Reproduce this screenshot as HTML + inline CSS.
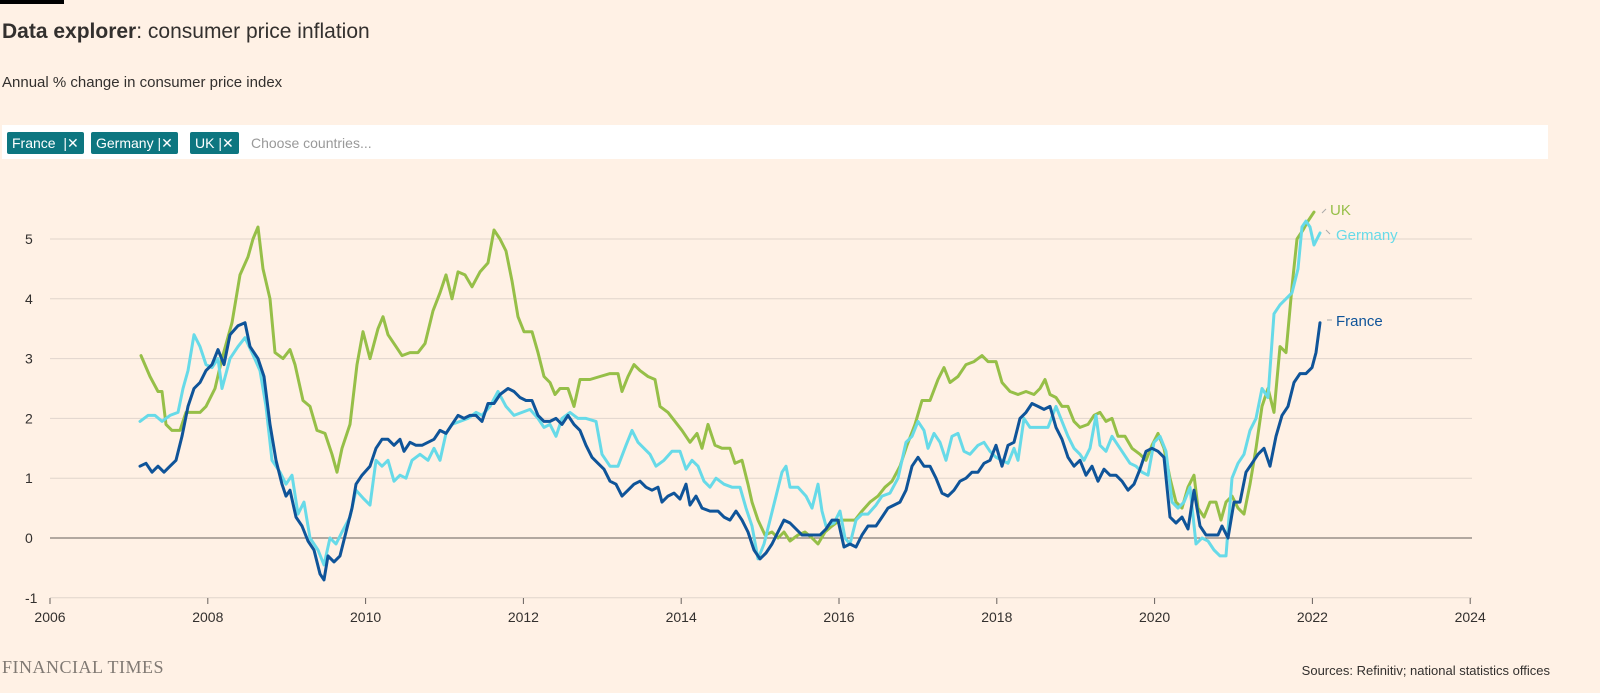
<!DOCTYPE html>
<html><head><meta charset="utf-8">
<style>
html,body{margin:0;padding:0;background:#fff1e5;width:1600px;height:693px;overflow:hidden;font-family:"Liberation Sans",sans-serif;color:#33302e}
.bar{position:absolute;left:0;top:0;width:64px;height:4px;background:#000}
h1{position:absolute;left:2px;top:20px;margin:0;font-size:21px;font-weight:normal}
h1 b{font-weight:bold}
.sub{position:absolute;left:2px;top:74px;font-size:15px}
.sel{position:absolute;left:2px;top:125px;width:1546px;height:34px;background:#fff}
.chip{position:absolute;top:7px;height:22px;background:#0d7680;color:#fff;font-size:14px;line-height:22px;padding:0 5px;border-radius:2px}
.ph{position:absolute;left:249px;top:7px;font-size:14px;line-height:22px;color:#999}
.ft{position:absolute;left:2px;top:657px;font-family:"Liberation Serif",serif;font-size:18px;color:#807973;letter-spacing:0.5px}
.src{position:absolute;right:50px;top:663px;font-size:13px}
</style></head><body>
<div class="bar"></div>
<h1><b>Data explorer</b>: consumer price inflation</h1>
<div class="sub">Annual % change in consumer price index</div>
<div class="sel">
<span class="chip" style="left:5px">France &nbsp;|✕</span>
<span class="chip" style="left:89px">Germany |✕</span>
<span class="chip" style="left:188px">UK |✕</span>
<span class="ph">Choose countries...</span>
</div>
<svg id="c" width="1600" height="693" style="position:absolute;left:0;top:0" font-family="Liberation Sans, sans-serif" font-size="14" fill="#33302e"></svg>
<div class="ft">FINANCIAL TIMES</div>
<div class="src">Sources: Refinitiv; national statistics offices</div>
<script>
const Y=v=>538-v*59.8;
let s='';
for(let v=-1;v<=5;v++){ if(v!==0) s+=`<line x1="50" x2="1472" y1="${Y(v)}" y2="${Y(v)}" stroke="#e0d5cc" stroke-width="1"/>`;
 s+=`<text x="25" y="${Y(v)+5}">${v}</text>`;}
s+=`<line x1="50" x2="1472" y1="538" y2="538" stroke="#66605c" stroke-width="1"/>`;
for(let yr=2006;yr<=2024;yr+=2){const x=50+(yr-2006)*78.9;s+=`<line x1="${x}" x2="${x}" y1="598" y2="604" stroke="#66605c"/><text x="${x}" y="622" text-anchor="middle">${yr}</text>`;}
const uk=[141,3.05,150,2.7,158,2.45,162,2.45,166,1.9,172,1.8,180,1.8,186,2.1,200,2.1,206,2.2,215,2.5,222,3.0,232,3.6,240,4.4,248,4.7,253,5.0,258,5.2,263,4.5,270,4.0,275,3.1,283,3.0,290,3.15,295,2.9,303,2.3,310,2.2,317,1.8,325,1.75,332,1.4,337,1.1,342,1.5,350,1.9,357,2.9,363,3.45,370,3.0,378,3.5,383,3.7,388,3.4,396,3.2,402,3.05,410,3.1,418,3.1,425,3.25,433,3.8,440,4.1,446,4.4,452,4.0,458,4.45,465,4.4,472,4.2,480,4.45,488,4.6,494,5.15,500,5.0,506,4.8,512,4.3,518,3.7,524,3.45,532,3.45,538,3.1,544,2.7,550,2.6,555,2.4,560,2.5,568,2.5,574,2.2,580,2.65,590,2.65,600,2.7,610,2.75,618,2.75,622,2.45,628,2.7,634,2.9,640,2.8,648,2.7,655,2.65,660,2.2,668,2.1,675,1.95,682,1.8,690,1.6,697,1.75,702,1.5,708,1.9,715,1.55,722,1.5,730,1.5,735,1.25,742,1.3,748,0.9,752,0.6,758,0.3,765,0.05,772,0.1,778,0.0,784,0.1,790,-0.05,798,0.05,805,0.1,812,0.0,818,-0.1,825,0.1,832,0.2,840,0.3,848,0.3,855,0.3,862,0.45,870,0.6,878,0.7,885,0.85,892,0.95,900,1.2,907,1.55,915,1.9,922,2.3,930,2.3,938,2.65,944,2.85,950,2.6,958,2.7,966,2.9,974,2.95,982,3.05,988,2.95,996,2.95,1002,2.6,1010,2.45,1018,2.4,1026,2.45,1034,2.4,1040,2.5,1045,2.65,1050,2.4,1056,2.35,1062,2.2,1068,2.2,1074,1.95,1080,1.85,1088,1.9,1094,2.05,1100,2.1,1106,1.95,1112,2.0,1118,1.7,1125,1.7,1132,1.5,1140,1.4,1146,1.3,1152,1.55,1158,1.75,1164,1.5,1170,1.0,1176,0.6,1182,0.5,1188,0.85,1194,1.05,1198,0.5,1204,0.35,1210,0.6,1216,0.6,1221,0.3,1226,0.6,1232,0.7,1238,0.5,1244,0.4,1250,0.9,1256,1.5,1262,2.2,1268,2.5,1274,2.1,1280,3.2,1286,3.1,1292,4.2,1297,5.0,1303,5.15,1308,5.3,1314,5.45];
const de=[140,1.95,148,2.05,155,2.05,162,1.95,170,2.05,178,2.1,183,2.5,188,2.8,194,3.4,200,3.2,206,2.9,212,2.85,218,3.0,222,2.5,230,3.0,238,3.2,245,3.35,252,3.1,260,2.8,266,2.2,272,1.3,280,1.1,286,0.9,292,1.05,298,0.4,304,0.6,310,0.0,318,-0.2,324,-0.45,330,0.0,336,-0.1,342,0.1,350,0.35,356,0.8,364,0.65,370,0.55,376,1.3,382,1.2,388,1.3,394,0.95,400,1.05,406,1.0,412,1.3,420,1.4,428,1.3,434,1.5,440,1.3,446,1.75,452,1.9,460,1.95,468,2.0,476,2.1,482,2.05,490,2.2,498,2.45,506,2.2,514,2.05,522,2.1,530,2.15,538,2.0,544,1.85,550,1.9,556,1.7,562,2.0,570,2.1,578,2.0,586,2.0,596,1.95,602,1.4,610,1.2,618,1.2,626,1.55,632,1.8,638,1.6,644,1.5,650,1.4,656,1.2,664,1.3,672,1.45,680,1.45,686,1.15,692,1.3,698,1.2,704,0.95,710,0.85,716,1.0,724,0.9,732,0.85,740,0.85,746,0.5,752,0.2,758,-0.35,764,-0.1,770,0.3,776,0.7,782,1.1,786,1.2,790,0.85,798,0.85,806,0.7,812,0.5,818,0.9,822,0.45,826,0.2,834,0.25,840,0.45,845,0.0,850,-0.1,856,0.3,862,0.4,868,0.4,876,0.55,882,0.7,890,0.75,898,1.0,906,1.6,912,1.7,918,1.95,924,1.8,928,1.5,934,1.75,940,1.6,946,1.3,952,1.7,958,1.75,964,1.45,970,1.4,978,1.55,984,1.6,990,1.45,996,1.35,1002,1.3,1008,1.25,1014,1.5,1018,1.3,1024,2.0,1030,1.85,1040,1.85,1048,1.85,1056,2.2,1062,1.95,1068,1.7,1074,1.5,1080,1.4,1084,1.3,1090,1.5,1096,2.05,1100,1.55,1106,1.45,1112,1.7,1118,1.55,1124,1.4,1130,1.25,1136,1.2,1142,1.1,1148,1.05,1154,1.6,1160,1.7,1166,1.45,1172,0.6,1178,0.5,1184,0.6,1190,0.85,1196,-0.1,1202,0.0,1208,-0.05,1214,-0.2,1220,-0.3,1226,-0.3,1232,1.0,1238,1.25,1244,1.4,1250,1.8,1256,2.0,1262,2.5,1268,2.35,1274,3.75,1280,3.9,1286,4.0,1292,4.1,1298,4.5,1302,5.2,1306,5.3,1310,5.2,1314,4.9,1320,5.1];
const fr=[140,1.2,146,1.25,152,1.1,158,1.2,164,1.1,170,1.2,176,1.3,182,1.7,188,2.2,194,2.5,200,2.6,206,2.8,212,2.9,218,3.15,224,2.9,230,3.4,238,3.55,245,3.6,250,3.2,258,3.0,264,2.7,270,1.9,276,1.3,282,0.9,286,0.7,290,0.8,296,0.35,302,0.2,308,-0.05,314,-0.2,320,-0.6,324,-0.7,328,-0.3,334,-0.4,340,-0.3,346,0.1,352,0.5,356,0.9,362,1.05,370,1.2,376,1.5,382,1.65,388,1.65,394,1.55,400,1.65,404,1.45,410,1.6,416,1.55,422,1.55,428,1.6,434,1.65,440,1.8,446,1.75,452,1.9,458,2.05,464,2.0,470,2.05,476,2.05,482,1.95,488,2.25,494,2.25,500,2.4,508,2.5,514,2.45,520,2.35,526,2.3,532,2.3,538,2.05,544,1.95,550,1.95,556,2.0,562,1.9,568,2.05,574,1.9,580,1.8,586,1.55,592,1.35,598,1.25,604,1.15,610,0.95,616,0.9,622,0.7,628,0.8,634,0.9,640,0.95,646,0.85,652,0.8,658,0.85,662,0.6,668,0.7,674,0.75,680,0.65,686,0.9,690,0.55,696,0.7,702,0.5,710,0.45,718,0.45,724,0.35,730,0.3,736,0.45,742,0.3,748,0.1,754,-0.2,760,-0.35,766,-0.25,772,-0.1,778,0.1,784,0.3,790,0.25,796,0.15,802,0.05,808,0.05,814,0.05,820,0.05,826,0.15,832,0.3,838,0.3,844,-0.15,850,-0.1,856,-0.15,862,0.05,868,0.2,876,0.2,882,0.35,888,0.5,894,0.55,900,0.6,906,0.8,912,1.2,918,1.35,924,1.2,930,1.2,936,1.0,942,0.75,948,0.7,954,0.8,960,0.95,966,1.0,972,1.1,978,1.1,984,1.25,990,1.3,996,1.55,1002,1.2,1008,1.55,1014,1.6,1020,2.0,1026,2.1,1032,2.25,1038,2.2,1044,2.15,1050,2.2,1056,1.85,1062,1.65,1068,1.35,1074,1.2,1080,1.3,1086,1.05,1092,1.2,1098,0.95,1104,1.15,1110,1.05,1116,1.05,1122,0.95,1128,0.8,1134,0.9,1140,1.15,1146,1.45,1152,1.5,1158,1.45,1164,1.35,1170,0.35,1176,0.25,1182,0.35,1188,0.15,1194,0.8,1200,0.2,1206,0.05,1212,0.05,1218,0.05,1222,0.2,1228,0.0,1234,0.6,1240,0.6,1246,1.1,1252,1.25,1258,1.4,1264,1.5,1270,1.2,1276,1.7,1282,2.05,1288,2.2,1294,2.6,1300,2.75,1306,2.75,1312,2.85,1316,3.1,1320,3.6];
const pl=(a,c)=>{let p=[];for(let i=0;i<a.length;i+=2)p.push(a[i]+','+Y(a[i+1]).toFixed(1));return `<polyline points="${p.join(' ')}" fill="none" stroke="${c}" stroke-width="3" stroke-linejoin="round" stroke-linecap="round"/>`;};
s+=pl(uk,'#96bf48')+pl(de,'#67dae8')+pl(fr,'#0f5499');
s+=`<line x1="1322" y1="213" x2="1326" y2="209" stroke="#aaa"/><text x="1330" y="215" fill="#96bf48" font-size="15">UK</text>`;
s+=`<line x1="1326" y1="230" x2="1330" y2="234" stroke="#aaa"/><text x="1336" y="240" fill="#67dae8" font-size="15">Germany</text>`;
s+=`<line x1="1327" y1="320" x2="1332" y2="320" stroke="#aaa"/><text x="1336" y="326" fill="#0f5499" font-size="15">France</text>`;
document.getElementById('c').innerHTML=s;
</script>
</body></html>
